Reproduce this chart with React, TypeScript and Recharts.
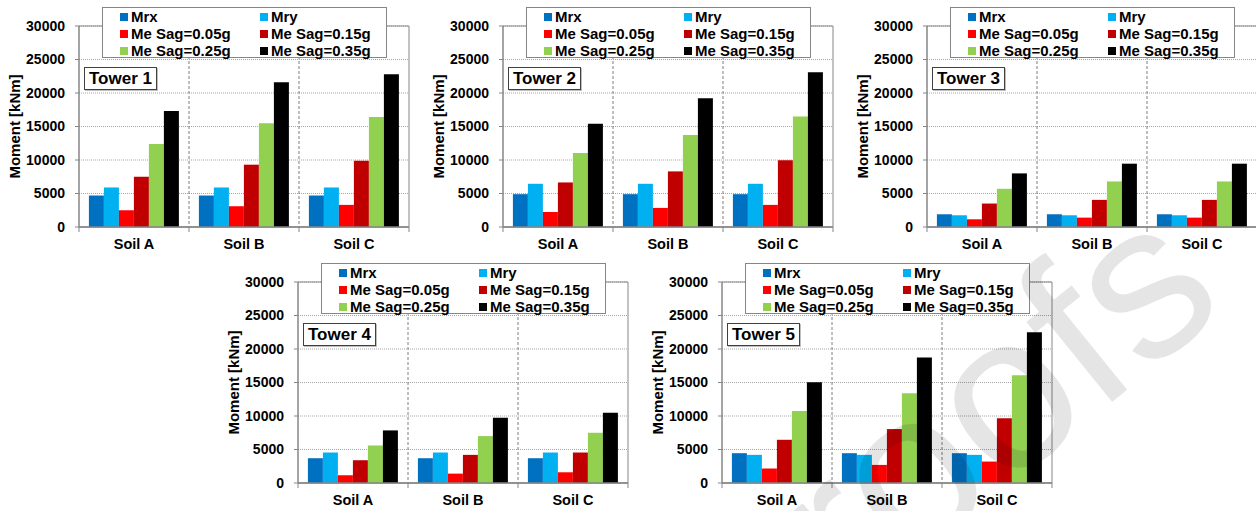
import React from 'react';
import { BarChart, Bar, XAxis, YAxis, CartesianGrid, ReferenceArea } from 'recharts';

const soils = ['Soil A', 'Soil B', 'Soil C'];
const seriesNames = ['Mrx', 'Mry', 'Me Sag=0.05g', 'Me Sag=0.15g', 'Me Sag=0.25g', 'Me Sag=0.35g'];
const seriesColors = ['#0070C0', '#00B0F0', '#FF0000', '#C00000', '#92D050', '#000000'];
const yTicks = [0, 5000, 10000, 15000, 20000, 25000, 30000];

// one row per soil, values in series order (kNm)
const tower1 = [
  [4700, 5900, 2500, 7500, 12400, 17300],
  [4700, 5900, 3100, 9300, 15500, 21600],
  [4700, 5900, 3300, 9900, 16400, 22800],
];
const tower2 = [
  [4900, 6450, 2250, 6650, 11050, 15400],
  [4900, 6450, 2850, 8300, 13750, 19200],
  [4900, 6450, 3300, 9950, 16500, 23100],
];
const tower3 = [
  [1900, 1750, 1150, 3500, 5700, 8000],
  [1900, 1750, 1400, 4050, 6800, 9450],
  [1900, 1750, 1400, 4050, 6800, 9450],
];
const tower4 = [
  [3700, 4550, 1150, 3400, 5600, 7850],
  [3700, 4550, 1400, 4200, 7000, 9750],
  [3700, 4550, 1600, 4550, 7500, 10500],
];
const tower5 = [
  [4450, 4200, 2150, 6450, 10750, 15050],
  [4450, 4200, 2700, 8050, 13400, 18750],
  [4450, 4200, 3200, 9650, 16100, 22500],
];

const FONT = 'Arial, "Liberation Sans", sans-serif';
const AXIS_GRAY = '#868686';

const W = 420;
const H = 256;
const Y_AXIS_W = 79;
const X_TICK_GAP = 12;

function YLabel(props: any) {
  const vb = props.viewBox || { x: 0, y: 26, height: 201 };
  const x = vb.x + 14;
  const y = vb.y + vb.height / 2;
  return (
    <text
      x={x}
      y={y}
      transform={`rotate(-90, ${x}, ${y})`}
      textAnchor="middle"
      dominantBaseline="central"
      fontFamily={FONT}
      fontSize={15}
      fontWeight="bold"
      fill="#000"
    >
      Moment [kNm]
    </text>
  );
}

// category label plus the small tick marks on the category boundaries
function SoilTick(props: any) {
  const { x, y, payload, index, width, visibleTicksCount } = props;
  const half = width / visibleTicksCount / 2;
  const axisY = y - X_TICK_GAP;
  return (
    <g>
      <line x1={x - half} x2={x - half} y1={axisY} y2={axisY + 5} stroke={AXIS_GRAY} />
      {index === visibleTicksCount - 1 && (
        <line x1={x + half} x2={x + half} y1={axisY} y2={axisY + 5} stroke={AXIS_GRAY} />
      )}
      <text x={x} y={y} dy="0.71em" textAnchor="middle" fontFamily={FONT} fontSize={14.5} fontWeight="bold" fill="#000">
        {payload.value}
      </text>
    </g>
  );
}

function Legend6() {
  return (
    <div
      style={{
        position: 'absolute',
        left: Y_AXIS_W + 23,
        top: 7,
        width: 285,
        height: 51,
        boxSizing: 'border-box',
        border: `1px solid ${AXIS_GRAY}`,
        background: '#fff',
        paddingLeft: 17,
        display: 'grid',
        gridTemplateColumns: '140px 1fr',
        gridAutoRows: 17,
        fontFamily: FONT,
        fontSize: 15,
        fontWeight: 'bold',
        color: '#000',
      }}
    >
      {seriesNames.map((name, i) => (
        <div key={name} style={{ display: 'flex', alignItems: 'center', gap: 3, whiteSpace: 'nowrap' }}>
          <div style={{ width: 8, height: 8, background: seriesColors[i] }} />
          {name}
        </div>
      ))}
    </div>
  );
}

function TowerPanel({ title, values, left, top }: { title: string; values: number[][]; left: number; top: number }) {
  const rows = soils.map((soil, i) => {
    const row: Record<string, string | number> = { soil };
    values[i].forEach((v, j) => {
      row[`s${j}`] = v;
    });
    return row;
  });

  return (
    <div style={{ position: 'absolute', left, top, width: W, height: H }}>
      <BarChart
        width={W}
        height={H}
        data={rows}
        margin={{ top: 26, right: 11, bottom: 3, left: 0 }}
        barCategoryGap="9%"
        barGap={0}
      >
        <CartesianGrid horizontal vertical={false} stroke="#a6a6a6" strokeDasharray="1 1" />
        <CartesianGrid
          horizontal={false}
          vertical
          stroke="#7f7f7f"
          strokeDasharray="3 2"
          verticalCoordinatesGenerator={({ offset }: any) =>
            [1, 2].map((i) => offset.left + (offset.width * i) / soils.length)
          }
        />
        <ReferenceArea y1={0} y2={30000} fill="none" stroke={AXIS_GRAY} strokeWidth={1} ifOverflow="visible" />
        <XAxis
          dataKey="soil"
          height={26}
          tickLine={false}
          tickSize={0}
          tickMargin={X_TICK_GAP}
          axisLine={{ stroke: AXIS_GRAY, strokeWidth: 1.5 }}
          tick={<SoilTick />}
        />
        <YAxis
          width={Y_AXIS_W}
          domain={[0, 30000]}
          ticks={yTicks}
          interval={0}
          tickSize={4}
          tickMargin={10}
          axisLine={{ stroke: AXIS_GRAY }}
          tickLine={{ stroke: AXIS_GRAY }}
          tick={{ fill: '#000', fontSize: 14, fontWeight: 'bold', fontFamily: FONT }}
          label={<YLabel />}
        />
        {seriesNames.map((name, i) => (
          <Bar key={name} dataKey={`s${i}`} name={name} fill={seriesColors[i]} isAnimationActive={false} />
        ))}
      </BarChart>
      <Legend6 />
      <div
        style={{
          position: 'absolute',
          left: Y_AXIS_W + 5,
          top: 26 + 41,
          width: 73,
          height: 23,
          boxSizing: 'border-box',
          border: '1px solid #404040',
          boxShadow: '1px 1px 0 #bfbfbf',
          background: '#fff',
          fontFamily: FONT,
          fontSize: 17,
          fontWeight: 'bold',
          lineHeight: '21px',
          textAlign: 'center',
          color: '#000',
        }}
      >
        {title}
      </div>
    </div>
  );
}

export default function App() {
  return (
    <div
      style={{
        position: 'absolute',
        left: 0,
        top: 0,
        width: 1256,
        height: 511,
        overflow: 'hidden',
        background: '#fff',
      }}
    >
      <TowerPanel title="Tower 1" values={tower1} left={0} top={0} />
      <TowerPanel title="Tower 2" values={tower2} left={424} top={0} />
      <TowerPanel title="Tower 3" values={tower3} left={848} top={0} />
      <TowerPanel title="Tower 4" values={tower4} left={219} top={256} />
      <TowerPanel title="Tower 5" values={tower5} left={643} top={256} />
      {/* faint watermark over the lower right */}
      <svg width={1256} height={511} style={{ position: 'absolute', left: 0, top: 0, pointerEvents: 'none' }}>
        <g transform="translate(1004, 416) rotate(-39)">
          <text x={0} y={0} dy="0.26em" textAnchor="middle" fontFamily={FONT} fontSize={220} fill="#000" fillOpacity={0.1}>
            roofs
          </text>
        </g>
      </svg>
    </div>
  );
}
